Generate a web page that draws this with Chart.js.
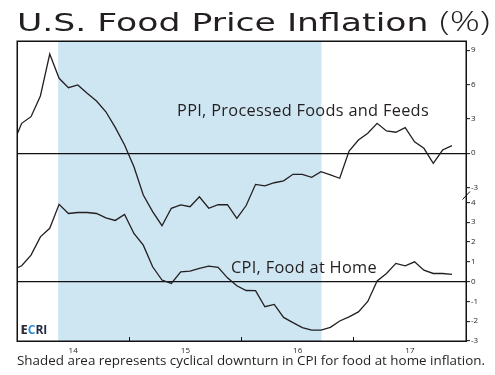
<!DOCTYPE html>
<html><head><meta charset="utf-8">
<script src="https://cdn.jsdelivr.net/npm/chart.js@4.4.0/dist/chart.umd.min.js"></script>
<style>
html,body{margin:0;padding:0;background:#fff;}
#wrap{position:relative;width:495px;height:375px;overflow:hidden;background:#fff;}
#c{position:absolute;left:0;top:0;}
.t{position:absolute;white-space:nowrap;font-family:'Open Sans',sans-serif;color:#231f20;line-height:1;transform-origin:0 0;}
</style></head><body>
<div id="wrap">
<canvas id="c" width="495" height="375"></canvas>
<div id="title" class="t" style="left:17px;top:7px;font-size:25px;font-family:'DejaVu Sans',sans-serif;">U.S. Food Price Inflation <span style="font-weight:300;font-family:'Open Sans',sans-serif;font-size:27px;">(%)</span></div>
<div id="ppiLbl" class="t" style="left:177px;top:102px;font-size:16px;">PPI, Processed Foods and Feeds</div>
<div id="cpiLbl" class="t" style="left:231px;top:259px;font-size:16px;">CPI, Food at Home</div>
<div id="ecri" class="t" style="left:21px;top:324px;font-size:12px;font-weight:700;"><span style="color:#1f2a44;text-shadow:-1px 0 0 #f29a22;">E</span><span style="color:#2d8fd5;">C</span><span style="color:#1f2a44;">RI</span></div>
<div id="caption" class="t" style="left:17px;top:355px;font-size:12.2px;">Shaded area represents cyclical downturn in CPI for food at home inflation.</div>
</div>
<script>
// ---- data (monthly, Dec 2013 .. Nov 2017) ----
const months = ['2013-12','2014-01','2014-02','2014-03','2014-04','2014-05','2014-06','2014-07','2014-08','2014-09','2014-10','2014-11','2014-12',
'2015-01','2015-02','2015-03','2015-04','2015-05','2015-06','2015-07','2015-08','2015-09','2015-10','2015-11','2015-12',
'2016-01','2016-02','2016-03','2016-04','2016-05','2016-06','2016-07','2016-08','2016-09','2016-10','2016-11','2016-12',
'2017-01','2017-02','2017-03','2017-04','2017-05','2017-06','2017-07','2017-08','2017-09','2017-10','2017-11'];
const ppiValues = [0.65, 2.61, 3.19, 5.0, 8.66, 6.54, 5.72, 5.96, 5.23, 4.56, 3.62, 2.26, 0.72, -1.18, -3.65, -5.10, -6.33, -4.81, -4.52, -4.67, -3.80, -4.81, -4.50, -4.50, -5.69, -4.57, -2.72, -2.86, -2.58, -2.41, -1.84, -1.84, -2.10, -1.62, -1.90, -2.19, 0.19, 1.15, 1.74, 2.61, 1.94, 1.83, 2.23, 1.0, 0.43, -0.88, 0.28, 0.66];
const cpiValues = [0.59, 0.80, 1.34, 2.26, 2.69, 3.90, 3.44, 3.49, 3.49, 3.44, 3.22, 3.09, 3.39, 2.43, 1.84, 0.75, 0.08, -0.09, 0.49, 0.53, 0.67, 0.78, 0.72, 0.19, -0.21, -0.45, -0.46, -1.27, -1.15, -1.81, -2.07, -2.32, -2.45, -2.45, -2.31, -1.99, -1.78, -1.53, -1.0, 0.03, 0.41, 0.92, 0.80, 1.0, 0.58, 0.41, 0.41, 0.36];
const yearLabels = ['14','15','16','17'];
const ppiTicks = [9, 6, 3, 0, -3];
const cpiTicks = [4, 3, 2, 1, 0, -1, -2, -3];
const shadeRange = [4.4, 32.55]; // months since Jan 2014 (CPI peak to trough)

// month string -> months since Jan 2014, mid-month
function monthPos(s){ const [y,m]=s.split('-').map(Number); return (y-2014)*12 + (m-1) + 0.5; }
const ppiData = months.map((m,i)=>({x:monthPos(m), y:ppiValues[i]}));
const cpiData = months.map((m,i)=>({x:monthPos(m), y:cpiValues[i]}));

const INK = '#231f20';
const tickFont = {family:"'Open Sans', sans-serif", size:8};

const framePlugin = {
  id:'frame',
  beforeDraw(chart){
    const {ctx, chartArea:a, scales:{x}} = chart;
    ctx.save();
    ctx.fillStyle = '#cee5f2';
    const x0 = x.getPixelForValue(shadeRange[0]), x1 = x.getPixelForValue(shadeRange[1]);
    ctx.fillRect(x0, a.top, x1-x0, a.bottom-a.top);
    ctx.restore();
  },
  afterDraw(chart){
    const {ctx, chartArea:a} = chart;
    ctx.save();
    ctx.strokeStyle = '#111';
    ctx.lineWidth = 1.5;
    ctx.strokeRect(a.left+0.25, a.top+0.25, a.right-a.left, a.bottom-a.top);
    // axis break mark
    ctx.lineWidth = 1;
    ctx.beginPath();
    ctx.moveTo(a.right-3.5, 199.5);
    ctx.lineTo(a.right+4, 191.5);
    ctx.stroke();
    ctx.restore();
  }
};

function yAxis(ticks, min, max, weight){
  return {
    type:'linear', position:'right', stack:'panels', stackWeight:weight,
    min:min, max:max,
    afterBuildTicks(s){ s.ticks = ticks.map(v=>({value:v})); },
    afterFit(s){ s.width = 29; },
    border:{display:false},
    grid:{
      drawOnChartArea:true, drawTicks:true, tickLength:4,
      color: c => (c.tick && c.tick.value === 0) ? '#111' : 'rgba(0,0,0,0)',
      lineWidth: 1.3,
      tickColor:'#111', tickWidth:1
    },
    ticks:{padding:1, font:tickFont, color:INK, autoSkip:false}
  };
}

const lineClip = {left:0, right:0, top:false, bottom:false};

new Chart(document.getElementById('c'), {
  type:'line',
  data:{ datasets:[
    {label:'PPI, Processed Foods and Feeds', data:ppiData, xAxisID:'x', yAxisID:'yP', borderColor:INK, borderWidth:1.3, pointRadius:0, tension:0, fill:false, clip:lineClip},
    {label:'CPI, Food at Home', data:cpiData, xAxisID:'x', yAxisID:'yC', borderColor:INK, borderWidth:1.3, pointRadius:0, tension:0, fill:false, clip:lineClip}
  ]},
  options:{
    responsive:false, animation:false, devicePixelRatio:1,
    layout:{padding:{left:17, top:41, right:0, bottom:0}},
    plugins:{legend:{display:false}, tooltip:{enabled:false}, title:{display:false}},
    scales:{
      x:{
        type:'linear', position:'bottom', min:0, max:48,
        afterBuildTicks(s){ s.ticks = [6,12,18,24,30,36,42].map(v=>({value:v})); },
        afterFit(s){ s.height = 34; },
        border:{display:false},
        grid:{
          drawOnChartArea:false, drawTicks:true, tickLength:-4,
          color:'rgba(0,0,0,0)',
          tickColor: c => (c.tick && c.tick.value % 12 === 0) ? '#111' : 'rgba(0,0,0,0)',
          tickWidth:1
        },
        ticks:{
          padding:9, autoSkip:false, maxRotation:0, font:tickFont, color:INK,
          callback:(v)=> (v % 12 === 6) ? yearLabels[(v-6)/12] : ''
        }
      },
      yP: yAxis(ppiTicks, -3.65, 9.80, 154),
      yC: yAxis(cpiTicks, -3, 4.374, 146)
    }
  },
  plugins:[framePlugin]
});

// stretch text horizontally to the reference widths (wide geometric face)
function fitScale(id, target, spacing){
  const el = document.getElementById(id);
  el.style.letterSpacing = (spacing || 0) + 'px';
  const w = el.getBoundingClientRect().width;
  el.style.transform = 'scaleX(' + (target / w) + ')';
}
fitScale('title', 473, 0);
fitScale('ppiLbl', 252, 0.3);
fitScale('cpiLbl', 146, 0.3);
fitScale('caption', 468, 0);
</script>
</body></html>
